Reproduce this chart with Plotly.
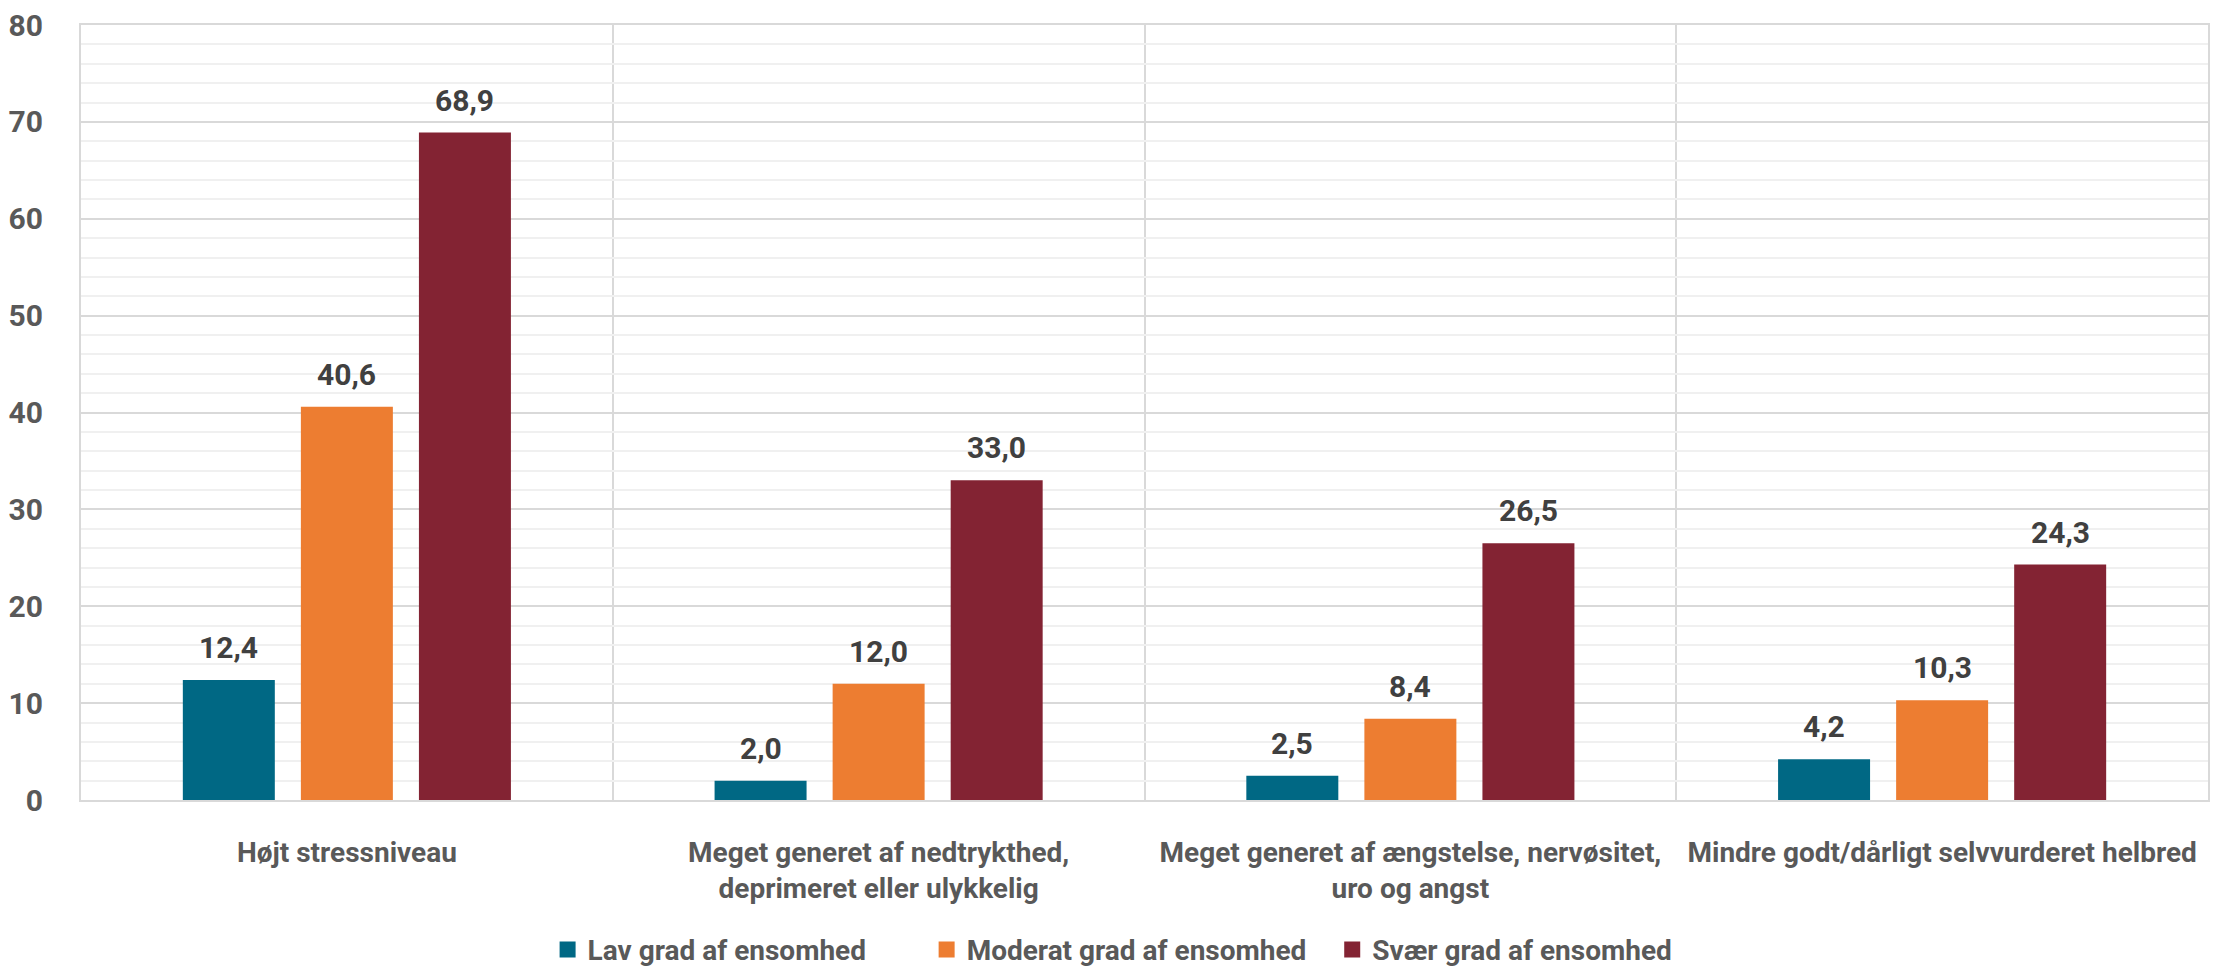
import plotly.graph_objects as go

categories = [
    "Højt stressniveau",
    "Meget generet af nedtrykthed,<br>deprimeret eller ulykkelig",
    "Meget generet af ængstelse, nervøsitet,<br>uro og angst",
    "Mindre godt/dårligt selvvurderet helbred",
]
series_names = ["Lav grad af ensomhed", "Moderat grad af ensomhed", "Svær grad af ensomhed"]
lav = [12.4, 2.0, 2.5, 4.2]
moderat = [40.6, 12.0, 8.4, 10.3]
svaer = [68.9, 33.0, 26.5, 24.3]
y_ticks = [0, 10, 20, 30, 40, 50, 60, 70, 80]

colors = ["#006884", "#ED7D31", "#832333"]
FONT = "Roboto, Liberation Sans, sans-serif"
LABEL_GREY = "#595959"
VALUE_GREY = "#404040"

# grouped bar geometry (category width = 1)
bar_width = 0.173
centres = [-0.222, 0.0, 0.222]
# extra room after each legend entry
legend_pad = ["\u00a0" * 8, "\u00a0" * 3, ""]

x_pos = list(range(len(categories)))

fig = go.Figure()
annotations = []
for name, vals, col, c, pad in zip(series_names, [lav, moderat, svaer], colors, centres, legend_pad):
    fig.add_trace(go.Bar(
        x=x_pos, y=vals, name=name,
        width=bar_width, offset=c - bar_width / 2,
        marker=dict(color=col, line=dict(width=0)),
        showlegend=False, hoverinfo="skip",
    ))
    # legend entry with a bigger square
    fig.add_trace(go.Scatter(
        x=[None], y=[None], mode="markers", name=name + pad,
        marker=dict(symbol="square", size=16, color=col),
    ))
    for i, v in zip(x_pos, vals):
        annotations.append(dict(
            x=i + c, y=v, xref="x", yref="y",
            text=f"{v:.1f}".replace(".", ","),
            showarrow=False, yanchor="bottom", yshift=13,
            font=dict(family=FONT, size=30, color=VALUE_GREY, weight="bold"),
        ))

# page body adds 8px offset, margins compensate
fig.update_layout(
    width=2229, height=974,
    margin=dict(l=73, r=29, t=17, b=182),
    plot_bgcolor="white", paper_bgcolor="white",
    font=dict(family=FONT, size=28, color=LABEL_GREY, weight="bold"),
    annotations=annotations,
    legend=dict(
        orientation="h", xref="paper", x=0.485, xanchor="center",
        yref="container", y=0.033, yanchor="middle",
        font=dict(family=FONT, size=28, color=LABEL_GREY, weight="bold"),
        itemclick=False, traceorder="normal",
    ),
)

fig.update_xaxes(
    range=[-0.5, 3.5],
    tickmode="array", tickvals=x_pos, ticktext=categories, tickangle=0,
    showgrid=False, zeroline=False,
    showline=True, mirror=True, linecolor="#d9d9d9", linewidth=2,
    ticks="", ticklabelstandoff=26,
    tickfont=dict(family=FONT, size=28, color=LABEL_GREY, weight="bold"),
    minor=dict(tickmode="array", tickvals=[0.5, 1.5, 2.5], showgrid=True,
               gridcolor="#d9d9d9", gridwidth=2, ticks=""),
    automargin=False,
)
fig.update_yaxes(
    range=[0, 80],
    tickmode="array", tickvals=y_ticks,
    showgrid=True, gridcolor="#d9d9d9", gridwidth=2,
    zeroline=False,
    showline=True, mirror=True, linecolor="#d9d9d9", linewidth=2,
    ticks="", ticklabelstandoff=30, ticklabeloverflow="allow",
    tickfont=dict(family=FONT, size=30, color=LABEL_GREY, weight="bold"),
    minor=dict(dtick=2, showgrid=True, gridcolor="#f0f0f0", gridwidth=2, ticks=""),
    automargin=False,
)

fig.write_html("out.html")
